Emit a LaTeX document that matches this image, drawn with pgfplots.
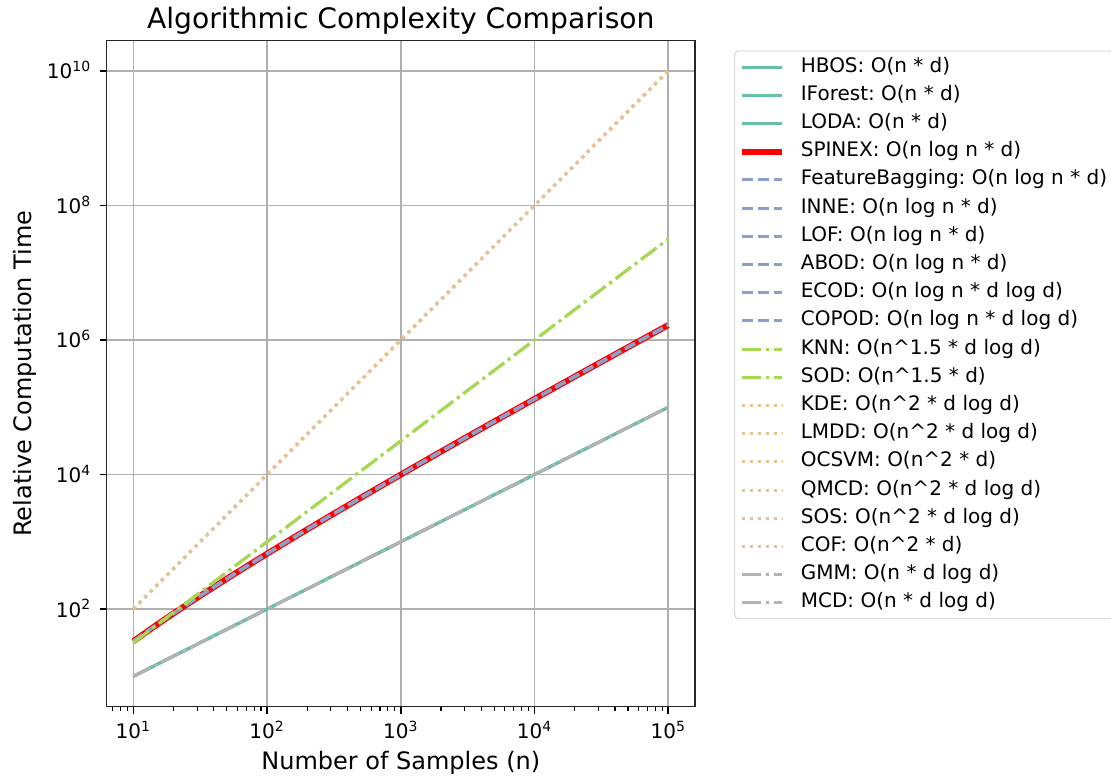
\documentclass[border=0pt]{standalone}
\usepackage{fontspec}
\setmainfont{DejaVu Sans}
\usepackage{pgfplots}
\pgfplotsset{compat=1.18}
\usepackage{pgfplotstable}
\frenchspacing

\definecolor{cLin}{HTML}{66C2A5}
\definecolor{cNlog}{HTML}{8DA0CB}
\definecolor{cNfif}{HTML}{A6D854}
\definecolor{cNsq}{HTML}{E5C494}
\definecolor{cGmm}{HTML}{B3B3B3}
\definecolor{gridc}{HTML}{B0B0B0}

\pgfplotstableread{
n lin nlogn nfifteen nsq
10 10 33.219 31.623 100
15 15 58.603 58.095 225
20 20 86.439 89.443 400
30 30 147.207 164.317 900
50 50 282.193 353.553 2500
70 70 429.050 585.662 4900
100 100 664.386 1000 10000
150 150 1084.32 1837.12 22500
200 200 1528.77 2828.43 40000
300 300 2468.65 5196.15 90000
500 500 4482.89 11180.3 250000
700 700 6615.85 18520.3 490000
1000 1000 9965.78 31622.8 1000000
1500 1500 15826.1 58094.8 2250000
2000 2000 21931.6 89442.7 4000000
3000 3000 34652.2 164317 9000000
5000 5000 61438.6 353553 25000000
7000 7000 89412.0 585662 49000000
10000 10000 132877 1000000 100000000
15000 15000 208090 1837117 225000000
20000 20000 285754 2828427 400000000
30000 30000 446180 5196152 900000000
50000 50000 780482 11180340 2500000000
70000 70000 1126655 18520259 4900000000
100000 100000 1660964 31622777 10000000000
}\datatable

\tikzset{
  slin/.style={color=cLin, line width=1.5pt},
  snlog/.style={color=cNlog, line width=1.5pt, dash pattern=on 5.55pt off 2.4pt},
  snfif/.style={color=cNfif, line width=1.5pt, dash pattern=on 9.6pt off 2.4pt on 1.5pt off 2.4pt},
  snsq/.style={color=cNsq, line width=1.5pt, dash pattern=on 1.5pt off 2.475pt},
  sgmm/.style={color=cGmm, line width=1.5pt, dash pattern=on 9.6pt off 2.4pt on 1.5pt off 2.4pt},
}

\begin{document}
\begin{tikzpicture}
\begin{axis}[
  xmode=log, ymode=log,
  scale only axis, width=294.2pt, height=333pt,
  xmin=6.3096, xmax=158489, ymin=3.548, ymax=2.818e10,
  xtick={10,100,1000,10000,100000},
  xticklabels={10\textsuperscript{1},10\textsuperscript{2},10\textsuperscript{3},10\textsuperscript{4},10\textsuperscript{5}},
  ytick={1e2,1e4,1e6,1e8,1e10},
  yticklabels={10\textsuperscript{2},10\textsuperscript{4},10\textsuperscript{6},10\textsuperscript{8},10\textsuperscript{10}},
  minor xtick={7,8,9,20,30,40,50,60,70,80,90,200,300,400,500,600,700,800,900,2000,3000,4000,5000,6000,7000,8000,9000,20000,30000,40000,50000,60000,70000,80000,90000},
  tick align=outside, tick pos=left,
  major tick length=3.5pt, minor tick length=2pt,
  major tick style={black, line width=0.8pt},
  minor tick style={black, line width=0.6pt},
  grid=major, major grid style={color=gridc, line width=0.8pt},
  axis line style={line width=0.8pt, black!85},
  tick label style={font=\fontsize{10}{12}\selectfont},
  xticklabel style={inner sep=0pt, anchor=base, yshift=-12.5pt},
  yticklabel style={inner sep=0pt, anchor=base east, xshift=-4pt, yshift=-4pt},
  title={Algorithmic Complexity Comparison},
  title style={at={(axis description cs:0.5,1)}, anchor=base, inner sep=0pt, font=\fontsize{14.1}{17}\selectfont},
  xlabel={Number of Samples (n)},
  xlabel style={at={(axis description cs:0.5,-0.0949)}, anchor=base, inner sep=0pt, font=\fontsize{12}{14}\selectfont},
  ylabel={Relative Computation Time},
  ylabel style={at={(axis description cs:-0.1275,0.5)}, anchor=base, inner sep=0pt, font=\fontsize{12}{14}\selectfont},
  legend cell align=left,
  legend image code/.code={\draw[#1] (0pt,0pt) -- (20pt,0pt);},
  legend style={
    at={(1.05,1)}, anchor=north west, xshift=5pt, yshift=-5pt,
    draw=black!20, rounded corners=2pt, fill=white,
    font=\fontsize{10}{12}\selectfont,
    inner xsep=2pt, inner ysep=2pt,
    row sep=2.1pt, column sep=7pt,
    nodes={inner sep=1pt, text height=7.5pt, text depth=2.5pt},
  },
]
\coordinate (sw) at (rel axis cs:0,0);
\addplot[slin] table[x=n, y=lin] {\datatable};
\addlegendentry{HBOS: O(n * d)}
\addplot[slin] table[x=n, y=lin] {\datatable};
\addlegendentry{IForest: O(n * d)}
\addplot[slin] table[x=n, y=lin] {\datatable};
\addlegendentry{LODA: O(n * d)}
\addplot[color=red, line width=3pt] table[x=n, y=nlogn] {\datatable};
\addlegendentry{SPINEX: O(n log n * d)}
\addplot[snlog] table[x=n, y=nlogn] {\datatable};
\addlegendentry{FeatureBagging: O(n log n * d)}
\addplot[snlog] table[x=n, y=nlogn] {\datatable};
\addlegendentry{INNE: O(n log n * d)}
\addplot[snlog] table[x=n, y=nlogn] {\datatable};
\addlegendentry{LOF: O(n log n * d)}
\addplot[snlog] table[x=n, y=nlogn] {\datatable};
\addlegendentry{ABOD: O(n log n * d)}
\addplot[snlog] table[x=n, y=nlogn] {\datatable};
\addlegendentry{ECOD: O(n log n * d log d)}
\addplot[snlog] table[x=n, y=nlogn] {\datatable};
\addlegendentry{COPOD: O(n log n * d log d)}
\addplot[snfif] table[x=n, y=nfifteen] {\datatable};
\addlegendentry{KNN: O(n\textasciicircum 1.5 * d log d)}
\addplot[snfif] table[x=n, y=nfifteen] {\datatable};
\addlegendentry{SOD: O(n\textasciicircum 1.5 * d)}
\addplot[snsq] table[x=n, y=nsq] {\datatable};
\addlegendentry{KDE: O(n\textasciicircum 2 * d log d)}
\addplot[snsq] table[x=n, y=nsq] {\datatable};
\addlegendentry{LMDD: O(n\textasciicircum 2 * d log d)}
\addplot[snsq] table[x=n, y=nsq] {\datatable};
\addlegendentry{OCSVM: O(n\textasciicircum 2 * d)}
\addplot[snsq] table[x=n, y=nsq] {\datatable};
\addlegendentry{QMCD: O(n\textasciicircum 2 * d log d)}
\addplot[snsq] table[x=n, y=nsq] {\datatable};
\addlegendentry{SOS: O(n\textasciicircum 2 * d log d)}
\addplot[snsq] table[x=n, y=nsq] {\datatable};
\addlegendentry{COF: O(n\textasciicircum 2 * d)}
\addplot[sgmm] table[x=n, y=lin] {\datatable};
\addlegendentry{GMM: O(n * d log d)}
\addplot[sgmm] table[x=n, y=lin] {\datatable};
\addlegendentry{MCD: O(n * d log d)}
\end{axis}
\pgfresetboundingbox
\path ([shift={(-53.3pt,-35.7pt)}]sw) rectangle ([shift={(502.2pt,353.3pt)}]sw);
\end{tikzpicture}
\end{document}
